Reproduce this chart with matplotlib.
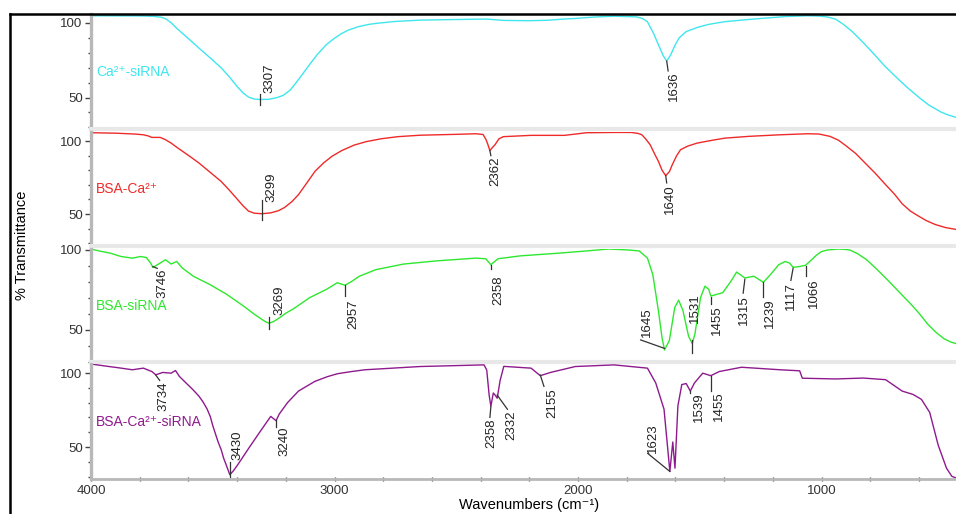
import matplotlib
matplotlib.use("Agg")
import matplotlib.pyplot as plt
from matplotlib.lines import Line2D
from matplotlib.ticker import MultipleLocator

plt.rcParams['font.family'] = ['Liberation Sans', 'DejaVu Sans']

# FTIR spectra, wavenumber (cm-1) vs % transmittance
ca_sirna_wn = [4000, 3800, 3740, 3710, 3690, 3670, 3648, 3600, 3557, 3510, 3466, 3430, 3398,
               3375, 3353, 3330, 3307, 3270, 3239, 3210, 3182, 3160, 3130, 3102, 3070, 3034,
               3000, 2970, 2943, 2900, 2860, 2830, 2750, 2648, 2500, 2375, 2306, 2200, 2125,
               2060, 2011, 1930, 1852, 1761, 1735, 1715, 1690, 1670, 1650, 1636, 1620, 1602,
               1585, 1556, 1510, 1465, 1400, 1329, 1250, 1147, 1060, 1010, 975, 942, 910, 874,
               830, 783, 740, 692, 650, 601, 560, 510, 480, 446]
ca_sirna_t = [104.8, 104.7, 104.4, 103.8, 102.5, 100, 96.4, 89.5, 83.2, 76.5, 70, 63.5, 57,
              53, 50.3, 49, 48.7, 48.8, 49.8, 51.5, 55, 59.5, 66, 72.2, 79, 85.4,
              89.8, 93, 95.2, 97.6, 99, 99.7, 101, 101.9, 102.3, 102.6, 101.7, 101.5, 101.8,
              102.6, 103, 104, 104.5, 104.1, 103, 100.8, 93, 85.4, 78, 74.4, 78.5, 85,
              90, 94.2, 97, 99, 100.8, 101.9, 103, 104.3, 104.8, 104.6, 104, 102.5, 99, 94.2,
              87, 78.8, 71, 63.4, 57, 50.2, 45, 40.3, 38.3, 36.6]

bsa_ca_wn = [4000, 3900, 3820, 3785, 3765, 3750, 3716, 3695, 3671, 3650, 3625, 3590, 3557,
             3510, 3466, 3430, 3398, 3375, 3353, 3330, 3299, 3262, 3230, 3205, 3175, 3148,
             3115, 3080, 3045, 3011, 2970, 2920, 2870, 2807, 2740, 2648, 2500, 2420, 2390,
             2378, 2370, 2362, 2352, 2341, 2325, 2307, 2193, 2056, 2010, 1965, 1850, 1783,
             1755, 1738, 1720, 1704, 1685, 1670, 1655, 1640, 1625, 1613, 1595, 1579, 1550,
             1511, 1450, 1397, 1300, 1170, 1056, 1010, 965, 930, 897, 860, 828, 780, 737,
             700, 669, 635, 601, 570, 533, 490, 446]
bsa_ca_t = [105.7, 105.4, 104.8, 104.3, 103.5, 102.5, 102.5, 101, 98.6, 96, 93.1, 89, 85,
            78.5, 72.4, 66, 59.9, 55.5, 52, 50.6, 50.2, 50.8, 52.3, 54.5, 58.5, 63.3,
            71, 79.3, 85, 89.5, 93.5, 97.2, 99.6, 101.6, 103, 104, 104.6, 105, 104.5,
            101, 97.5, 93.4, 95.5, 97.5, 101.5, 103, 103.9, 103.9, 104.8, 105.7, 105.9, 105.9,
            105.3, 104.3, 101, 97.5, 91, 86.1, 80, 76.3, 79, 83.8, 90, 94.1, 96.5,
            98.6, 100.5, 102, 103.2, 104.3, 105, 104.8, 103.2, 100.5, 96.4, 91.5, 86.1, 78, 70.1,
            63.5, 57, 52, 48.5, 45.5, 42.8, 40.7, 39.4]

bsa_sirna_wn = [4000, 3967, 3921, 3876, 3830, 3796, 3773, 3755, 3746, 3716, 3694, 3671, 3648,
                3625, 3580, 3512, 3443, 3375, 3330, 3300, 3284, 3269, 3250, 3227, 3200, 3171,
                3102, 3034, 2989, 2957, 2932, 2898, 2830, 2716, 2579, 2420, 2379, 2358, 2329,
                2238, 2079, 1965, 1874, 1795, 1749, 1715, 1693, 1670, 1655, 1645, 1625, 1603,
                1587, 1569, 1546, 1531, 1520, 1497, 1479, 1463, 1455, 1406, 1372, 1349, 1315,
                1278, 1239, 1210, 1176, 1149, 1131, 1117, 1090, 1066, 1040, 1020, 1000, 975,
                929, 900, 884, 850, 815, 770, 724, 680, 633, 600, 565, 530, 497, 470, 446]
bsa_sirna_t = [100.6, 99.4, 98, 95.9, 94.9, 95.9, 95.3, 91.8, 89.1, 91.8, 93.9, 91.2, 92.8,
               88.7, 83.6, 78.4, 72.3, 65.1, 59.9, 56.8, 55.2, 54.2, 55.3, 57.5, 60.5, 63,
               70.2, 75.3, 79.5, 78, 80.1, 83.6, 87.7, 91.2, 93.2, 94.9, 94.5, 90.8, 94.5,
               96.3, 98, 99.4, 100.6, 100, 99.4, 94.9, 84.6, 62, 45, 37.5, 43.5, 64,
               68.6, 62, 46, 41.5, 47.6, 70.2, 77.4, 75.3, 71.2, 73.3, 80.5, 86.2, 82.5,
               83.6, 79.8, 84.6, 90.8, 92.8, 91.8, 89.1, 89.7, 90.4, 94, 96.9, 99, 100,
               100.6, 100.3, 100, 97.5, 93.9, 87.5, 80.5, 73.5, 66.1, 60.5, 53.8, 48.5, 44.5,
               42.5, 41.4]

bsa_ca_sirna_wn = [4000, 3944, 3876, 3830, 3785, 3750, 3734, 3705, 3671, 3653, 3637, 3603,
                   3580, 3557, 3540, 3523, 3510, 3500, 3478, 3465, 3455, 3445, 3430, 3415,
                   3398, 3353, 3307, 3262, 3240, 3227, 3193, 3148, 3100, 3080, 3030, 2989,
                   2930, 2875, 2648, 2386, 2375, 2365, 2358, 2348, 2340, 2332, 2320, 2305,
                   2193, 2155, 2113, 2011, 1852, 1715, 1681, 1647, 1623, 1611, 1602, 1590,
                   1574, 1556, 1539, 1522, 1488, 1455, 1420, 1329, 1170, 1090, 1079, 942,
                   828, 737, 669, 624, 590, 556, 521, 487, 465, 446]
bsa_ca_sirna_t = [106.1, 104.8, 103.3, 102.2, 103.3, 101, 98.8, 100.4, 99.9, 101.7, 97.7,
                  92.2, 88.5, 84.4, 80.5, 75.6, 70.5, 64.5, 53.4, 48, 42.3, 38, 31.3, 34,
                  37.9, 49, 60.1, 70.7, 67.8, 72.3, 80, 87.8, 92.5, 94.4, 97.5, 99.5,
                  101, 102.2, 104.4, 105.5, 102, 85, 77.5, 86.5, 85, 83, 95, 104.5,
                  103.3, 98.2, 100.4, 104.4, 105.5, 103.3, 93.3, 75.6, 33.5, 53.4, 35.7,
                  77.8, 92.2, 92.9, 87.8, 93.3, 99.9, 98.2, 101, 103.9, 102.2, 101.5, 96.5,
                  96, 96.6, 95.5, 87.8, 85.5, 82.2, 73.4, 51.2, 35.7, 30.2, 29]

sample_names = ["Ca\u00b2\u207a-siRNA", "BSA-Ca\u00b2\u207a", "BSA-siRNA", "BSA-Ca\u00b2\u207a-siRNA"]
colors = ["#3fe6ee", "#ee2a2a", "#2ee82e", "#8e1a8e"]
spectra = [(ca_sirna_wn, ca_sirna_t), (bsa_ca_wn, bsa_ca_t),
           (bsa_sirna_wn, bsa_sirna_t), (bsa_ca_sirna_wn, bsa_ca_sirna_t)]

# peak labels: text, peak (wn, T), leader end (wn, T), text anchor (wn, T), text above/below
peak_labels = [
    [("3307", 3307, 52.1, 3307, 45.0, 3269, 52.8, "bottom"),
     ("1636", 1636, 74.4, 1630, 67.8, 1606, 67.4, "top")],
    [("3299", 3299, 59.6, 3299, 45.9, 3260, 58.4, "bottom"),
     ("2362", 2362, 93.4, 2358, 90.0, 2339, 89.5, "top"),
     ("1640", 1640, 76.3, 1636, 71.3, 1622, 70.1, "top")],
    [("3746", 3746, 89.6, 3728, 88.5, 3708, 88.5, "top"),
     ("3269", 3269, 58.3, 3269, 50.4, 3228, 59.4, "bottom"),
     ("2957", 2957, 78.0, 2957, 71.2, 2921, 69.2, "top"),
     ("2358", 2358, 90.8, 2358, 88.0, 2326, 84.2, "top"),
     ("1645", 1645, 38.5, 1743, 43.8, 1718, 45.6, "bottom"),
     ("1531", 1531, 43.8, 1531, 35.4, 1520, 54.2, "bottom"),
     ("1455", 1455, 70.8, 1455, 66.5, 1429, 65.6, "top"),
     ("1315", 1315, 81.7, 1322, 73.0, 1318, 71.9, "top"),
     ("1239", 1239, 80.2, 1239, 70.8, 1212, 70.0, "top"),
     ("1117", 1117, 88.5, 1126, 81.0, 1124, 80.2, "top"),
     ("1066", 1066, 90.0, 1066, 83.8, 1032, 82.3, "top")],
    [("3734", 3734, 98.6, 3718, 95.0, 3704, 94.1, "top"),
     ("3430", 3430, 40.0, 3430, 30.0, 3400, 41.2, "bottom"),
     ("3240", 3240, 68.2, 3240, 63.7, 3206, 63.7, "top"),
     ("2358", 2358, 77.2, 2362, 70.0, 2358, 69.4, "top"),
     ("2332", 2332, 85.1, 2290, 75.5, 2272, 75.0, "top"),
     ("2155", 2155, 98.6, 2140, 91.0, 2107, 89.7, "top"),
     ("1623", 1623, 33.5, 1714, 45.7, 1691, 45.7, "bottom"),
     ("1539", 1539, 87.8, 1539, 86.5, 1505, 86.7, "top"),
     ("1455", 1455, 98.2, 1455, 87.8, 1421, 87.8, "top")],
]

ylims = [(28.9, 106.0), (28.1, 106.2), (30.0, 100.6), (28.4, 106.1)]
# panel extents in pixels (top, bottom)
panel_px = [(14, 129), (132, 246), (249, 362), (364, 479)]

W, H = 956, 514
fig = plt.figure(figsize=(W / 100, H / 100), dpi=100)

for i in range(4):
    top, bot = panel_px[i]
    ax = fig.add_axes([91 / W, 1 - bot / H, 865 / W, (bot - top) / H])
    wn, t = spectra[i]
    ax.plot(wn, t, color=colors[i], lw=1.0)
    ax.set_xlim(4000, 448)
    ax.set_ylim(*ylims[i])
    ax.set_yticks([50, 100])
    ax.yaxis.set_minor_locator(MultipleLocator(10))
    ax.tick_params(axis='y', which='major', labelsize=9.5, labelcolor='#333333',
                   color='#444444', length=4, width=1, pad=2)
    ax.tick_params(axis='y', which='minor', color='#444444', length=2, width=1)
    for s in ['top', 'right']:
        ax.spines[s].set_visible(False)
    ax.spines['left'].set_color('#b8b8b8')
    ax.spines['left'].set_linewidth(2.4)
    if i < 3:
        ax.spines['bottom'].set_color('#e8e8e8')
        ax.spines['bottom'].set_linewidth(3)
        ax.set_xticks([])
    else:
        ax.spines['bottom'].set_color('#b8b8b8')
        ax.spines['bottom'].set_linewidth(2)
        ax.set_xticks([4000, 3000, 2000, 1000])
        ax.xaxis.set_minor_locator(MultipleLocator(200))
        ax.tick_params(axis='x', which='both', direction='inout', color='#444444',
                       length=3, width=1, labelsize=9.5, labelcolor='#333333', pad=3)
    ax.text(0.006, 0.5, sample_names[i], transform=ax.transAxes, color=colors[i],
            fontsize=10, va='center', ha='left')
    for lab, pw, pt, ew, et, tw, tt, pos in peak_labels[i]:
        ax.plot([pw, ew], [pt, et], color='#333333', lw=0.9)
        ax.text(tw, tt, lab, rotation=90, ha='center', va=pos, fontsize=9.5,
                color='#222222')
    ax.patch.set_alpha(0)

fig.text(22 / W, 1 - 245 / H, "% Transmittance", rotation=90, ha='center', va='center',
         fontsize=10.5)
fig.text(529 / W, 1 - 505 / H, "Wavenumbers (cm\u207b\u00b9)", ha='center', va='center',
         fontsize=10.5)

# black frame on the left and top of the picture
fig.add_artist(Line2D([10 / W, 10 / W], [0, 1 - 14 / H], color='black', lw=1.8))
fig.add_artist(Line2D([10 / W, 1], [1 - 14 / H, 1 - 14 / H], color='black', lw=1.8))

plt.savefig("out.png", dpi=100)
